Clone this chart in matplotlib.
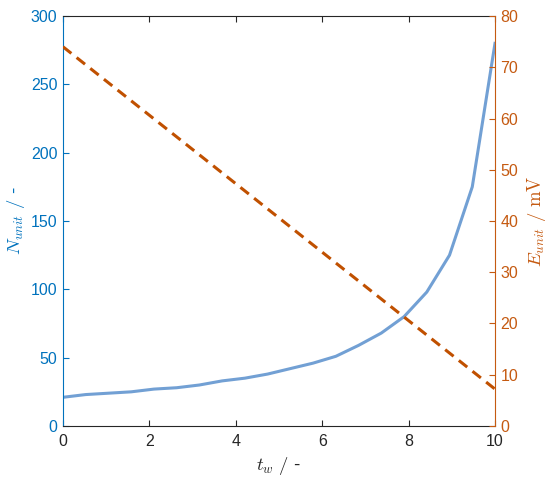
import matplotlib
matplotlib.use("Agg")
import matplotlib.pyplot as plt
import numpy as np

plt.rcParams['font.family'] = ['Liberation Sans', 'DejaVu Sans']
plt.rcParams['mathtext.fontset'] = 'cm'

tw = [0.0, 0.526, 1.053, 1.579, 2.105, 2.632, 3.158, 3.684, 4.211, 4.737,
      5.263, 5.789, 6.316, 6.842, 7.368, 7.895, 8.421, 8.947, 9.474, 10.0]
n_unit = [21, 23, 24, 25, 27, 28, 30, 33, 35, 38,
          42, 46, 51, 59, 68, 80, 98, 125, 175, 280]
tw_e = [0.0, 10.0]
e_unit = [74, 7.2]

left_color = '#0072BD'
right_color = '#C55A11'
line_blue = '#72A0D4'
line_orange = '#C05000'

fig = plt.figure(figsize=(5.5, 4.78), dpi=100)
ax = fig.add_axes([0.1145, 0.1088, 0.7855, 0.8577])
ax.plot(tw, n_unit, color=line_blue, lw=2.2)
ax.set_xlim(0, 10)
ax.set_ylim(0, 300)
ax.set_xticks([0, 2, 4, 6, 8, 10])
ax.set_yticks(np.arange(0, 301, 50))
ax.tick_params(axis='x', direction='in', top=True, labelsize=11.5, length=4, pad=6,
               color='#262626', labelcolor='#262626')
ax.tick_params(axis='y', direction='in', right=False, labelsize=11.5, length=4, pad=4,
               color=left_color, labelcolor=left_color)
ax.spines['left'].set_color(left_color)
ax.spines['right'].set_visible(False)
ax.spines['top'].set_color('#262626')
ax.spines['bottom'].set_color('#262626')
ax.set_xlabel(r'$t_w\ /\ $-', fontsize=13.5, color='#262626', labelpad=4)
ax.set_ylabel(r'$N_{unit}\ /\ $-', fontsize=13.5, color=left_color, labelpad=3)

ax2 = ax.twinx()
ax2.plot(tw_e, e_unit, color=line_orange, lw=2.2, ls=(0, (3.5, 2.2)))
ax2.set_ylim(0, 80)
ax2.set_yticks(np.arange(0, 81, 10))
ax2.tick_params(axis='y', direction='in', labelsize=11.5, length=4, pad=4,
                color=right_color, labelcolor=right_color)
for s in ['left', 'top', 'bottom']:
    ax2.spines[s].set_visible(False)
ax2.spines['right'].set_color(right_color)
ax2.set_ylabel(r'$E_{unit}\ /\ \mathrm{mV}$', fontsize=13.5, color=right_color, labelpad=5)

fig.savefig('out.png', dpi=100)
